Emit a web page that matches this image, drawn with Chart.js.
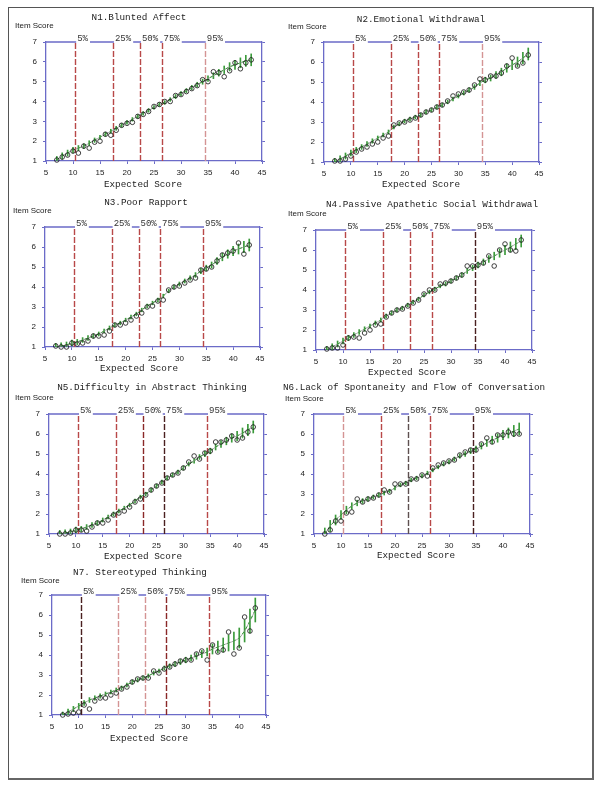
<!DOCTYPE html>
<html lang="en">
<head>
<meta charset="UTF-8">
<title>Item characteristic curves N1-N7</title>
<script src="https://cdn.jsdelivr.net/npm/chart.js"></script>
<style>
  body { margin: 0; background: #fff; width: 600px; height: 788px; position: relative; overflow: hidden; }
  .frame { position: absolute; left: 8px; top: 7px; width: 583px; height: 770px;
           border: 1px solid #555; border-right: 2px solid #666; border-bottom: 2px solid #666; }
  canvas { position: absolute; }
</style>
</head>
<body>
<div class="frame"></div>

<script>
// expected score positions (shared by all items)
const scoreX = [7, 8, 9, 10, 11, 12, 13, 14, 15, 16, 17, 18, 19, 20, 21, 22, 23, 24, 25,
                26, 27, 28, 29, 30, 31, 32, 33, 34, 35, 36, 37, 38, 39, 40, 41, 42, 43];

const percentiles = [10.4, 17.4, 22.4, 26.4, 34.4];
const percentLabels = ['5%', '25%', '50%', '75%', '95%'];
const xTicks = [5, 10, 15, 20, 25, 30, 35, 40, 45];
const yTicks = [1, 2, 3, 4, 5, 6, 7];

const titles = [
  'N1.Blunted Affect',
  'N2.Emotional Withdrawal',
  'N3.Poor Rapport',
  'N4.Passive Apathetic Social Withdrawal',
  'N5.Difficulty in Abstract Thinking',
  'N6.Lack of Spontaneity and Flow of Conversation',
  'N7. Stereotyped Thinking'
];

// model (expected item score) curves
const modelN1 = [1.05, 1.25, 1.4, 1.55, 1.65, 1.75, 1.9, 2.05, 2.2, 2.35, 2.5, 2.65, 2.8, 2.95, 3.1, 3.25, 3.4, 3.55, 3.7,
                 3.85, 3.95, 4.1, 4.25, 4.4, 4.55, 4.7, 4.85, 5.0, 5.15, 5.3, 5.45, 5.6, 5.75, 5.85, 5.95, 6.05, 6.1];
const modelN2 = [1.0, 1.15, 1.3, 1.45, 1.6, 1.75, 1.9, 2.05, 2.2, 2.35, 2.5, 2.75, 2.9, 3.05, 3.15, 3.25, 3.35, 3.5, 3.6,
                 3.75, 3.85, 4.0, 4.15, 4.3, 4.45, 4.6, 4.75, 4.95, 5.1, 5.2, 5.35, 5.5, 5.7, 5.85, 6.0, 6.2, 6.4];
const modelN3 = [1.0, 1.05, 1.1, 1.2, 1.25, 1.35, 1.45, 1.55, 1.65, 1.8, 1.95, 2.1, 2.2, 2.35, 2.5, 2.65, 2.85, 3.05, 3.2,
                 3.35, 3.55, 3.8, 4.0, 4.15, 4.3, 4.45, 4.6, 4.8, 4.95, 5.1, 5.3, 5.5, 5.65, 5.8, 5.9, 6.0, 6.1];
const modelN4 = [1.0, 1.15, 1.3, 1.45, 1.6, 1.75, 1.9, 2.05, 2.2, 2.35, 2.5, 2.7, 2.85, 3.0, 3.1, 3.25, 3.4, 3.55, 3.75,
                 3.9, 4.05, 4.2, 4.3, 4.45, 4.6, 4.75, 4.95, 5.1, 5.25, 5.4, 5.55, 5.7, 5.85, 6.0, 6.15, 6.3, 6.45];
const modelN5 = [1.0, 1.05, 1.1, 1.2, 1.25, 1.35, 1.45, 1.55, 1.7, 1.85, 2.0, 2.15, 2.3, 2.45, 2.65, 2.85, 3.0, 3.2, 3.4,
                 3.6, 3.8, 3.95, 4.1, 4.3, 4.5, 4.65, 4.85, 5.0, 5.15, 5.35, 5.5, 5.65, 5.8, 5.9, 6.05, 6.2, 6.35];
const modelN6 = [1.0, 1.4, 1.7, 1.95, 2.2, 2.4, 2.55, 2.65, 2.75, 2.85, 2.95, 3.05, 3.15, 3.3, 3.45, 3.55, 3.7, 3.8, 3.9,
                 4.05, 4.2, 4.35, 4.5, 4.6, 4.75, 4.9, 5.0, 5.15, 5.25, 5.4, 5.55, 5.7, 5.8, 5.95, 6.05, 6.15, 6.25];
const modelN7 = [1.0, 1.15, 1.3, 1.45, 1.6, 1.75, 1.85, 1.95, 2.05, 2.15, 2.25, 2.35, 2.5, 2.65, 2.75, 2.85, 2.95, 3.1, 3.2,
                 3.35, 3.45, 3.55, 3.65, 3.75, 3.85, 3.95, 4.05, 4.15, 4.3, 4.4, 4.5, 4.6, 4.7, 4.85, 5.2, 5.7, 6.25];

// observed item scores
const obsN1 = [1.05, 1.2, 1.3, 1.5, 1.4, 1.75, 1.65, 1.95, 2.0, 2.35, 2.3, 2.55, 2.8, 2.9, 2.95, 3.25, 3.35, 3.5, 3.75,
               3.85, 4.0, 4.0, 4.3, 4.35, 4.5, 4.65, 4.8, 5.1, 5.0, 5.5, 5.45, 5.25, 5.55, 5.95, 5.65, 5.95, 6.1];
const obsN2 = [1.05, 1.05, 1.15, 1.3, 1.5, 1.65, 1.75, 1.9, 2.0, 2.2, 2.3, 2.85, 2.95, 3.0, 3.1, 3.2, 3.35, 3.5, 3.6,
               3.75, 3.85, 4.05, 4.3, 4.4, 4.5, 4.6, 4.85, 5.15, 5.1, 5.3, 5.3, 5.45, 5.8, 6.2, 5.8, 5.95, 6.35];
const obsN3 = [1.05, 1.0, 1.0, 1.2, 1.15, 1.2, 1.3, 1.55, 1.55, 1.6, 1.8, 2.1, 2.1, 2.2, 2.35, 2.55, 2.7, 3.0, 3.05,
               3.3, 3.35, 3.85, 4.0, 4.05, 4.2, 4.35, 4.45, 4.85, 4.9, 5.0, 5.3, 5.6, 5.7, 5.8, 6.2, 5.65, 6.1];
const obsN4 = [1.05, 1.1, 1.1, 1.25, 1.6, 1.65, 1.6, 1.85, 2.0, 2.25, 2.3, 2.65, 2.85, 3.0, 3.05, 3.2, 3.35, 3.5, 3.8,
               4.0, 4.0, 4.3, 4.35, 4.45, 4.6, 4.75, 5.2, 5.2, 5.25, 5.35, 5.7, 5.2, 6.0, 6.3, 6.0, 5.95, 6.5];
const obsN5 = [1.0, 1.0, 1.05, 1.2, 1.2, 1.15, 1.35, 1.55, 1.55, 1.7, 1.95, 2.05, 2.15, 2.35, 2.6, 2.75, 2.95, 3.2, 3.4,
               3.55, 3.8, 3.95, 4.05, 4.3, 4.6, 4.9, 4.75, 5.05, 5.15, 5.6, 5.6, 5.7, 5.9, 5.7, 5.8, 6.1, 6.35];
const obsN6 = [1.0, 1.2, 1.65, 1.65, 2.05, 2.1, 2.75, 2.6, 2.75, 2.8, 2.95, 3.2, 3.1, 3.5, 3.5, 3.5, 3.75, 3.75, 3.95,
               3.9, 4.3, 4.45, 4.55, 4.65, 4.7, 4.95, 5.1, 5.2, 5.2, 5.5, 5.8, 5.6, 5.95, 5.95, 6.1, 6.0, 6.0];
const obsN7 = [1.0, 1.05, 1.1, 1.15, 1.5, 1.3, 1.7, 1.85, 1.85, 2.0, 2.1, 2.3, 2.4, 2.65, 2.8, 2.85, 2.85, 3.2, 3.1,
               3.3, 3.4, 3.55, 3.7, 3.75, 3.75, 4.05, 4.2, 3.75, 4.5, 4.15, 4.25, 5.15, 4.05, 4.35, 5.9, 5.2, 6.35];

// half widths of the green confidence bars
const ciCommon = [0.18, 0.16, 0.15, 0.14, 0.13, 0.12, 0.12, 0.11, 0.1, 0.1, 0.1, 0.1, 0.09, 0.09, 0.09, 0.09, 0.09, 0.09, 0.09,
                  0.09, 0.09, 0.09, 0.1, 0.1, 0.1, 0.11, 0.12, 0.13, 0.14, 0.15, 0.17, 0.19, 0.21, 0.23, 0.25, 0.28, 0.3];
const ciN6 = [0.3, 0.28, 0.25, 0.22, 0.19, 0.16, 0.14, 0.12, 0.11, 0.1, 0.1, 0.1, 0.09, 0.09, 0.09, 0.09, 0.09, 0.09, 0.09,
              0.09, 0.09, 0.09, 0.1, 0.1, 0.1, 0.11, 0.12, 0.13, 0.14, 0.15, 0.17, 0.19, 0.21, 0.23, 0.25, 0.28, 0.3];
const ciN7 = [0.15, 0.14, 0.13, 0.13, 0.12, 0.12, 0.11, 0.11, 0.1, 0.1, 0.1, 0.1, 0.1, 0.1, 0.1, 0.1, 0.1, 0.1, 0.1,
              0.1, 0.11, 0.12, 0.13, 0.14, 0.15, 0.16, 0.18, 0.2, 0.25, 0.3, 0.35, 0.4, 0.45, 0.5, 0.55, 0.6, 0.6];

// ---- styles / layout ----
const BLUE = '#6b6bc8';
const GREEN = '#3a9a3a';
const red = '#b84848', pink = '#d49494', dark = '#4a2020', darkRed = '#8a2828', grayDark = '#5e5050';
const ML = 42, MR = 22, MT = 40, MB = 32;

const panels = [
  { model: modelN1, obs: obsN1, ci: ciCommon, box: [46, 262, 42, 161],  title: [139, 18],  item: [15, 26],  exp: [143, 185], lines: [red, red, red, red, pink] },
  { model: modelN2, obs: obsN2, ci: ciCommon, box: [324, 539, 42, 162], title: [421, 20],  item: [288, 27], exp: [421, 185], lines: [red, red, red, red, pink] },
  { model: modelN3, obs: obsN3, ci: ciCommon, box: [45, 260, 227, 347], title: [146, 203], item: [13, 211], exp: [139, 369], lines: [red, red, red, red, red] },
  { model: modelN4, obs: obsN4, ci: ciCommon, box: [316, 532, 230, 350], title: [432, 205], item: [288, 214], exp: [407, 373], lines: [red, red, red, red, dark] },
  { model: modelN5, obs: obsN5, ci: ciCommon, box: [49, 264, 414, 534], title: [152, 388], item: [15, 398], exp: [143, 557], lines: [red, red, darkRed, dark, red] },
  { model: modelN6, obs: obsN6, ci: ciN6,     box: [314, 530, 414, 534], title: [414, 388], item: [285, 399], exp: [416, 556], lines: [pink, red, grayDark, red, dark] },
  { model: modelN7, obs: obsN7, ci: ciN7,     box: [52, 266, 595, 715], title: [140, 573], item: [21, 581], exp: [149, 739], lines: [dark, pink, pink, darkRed, red] }
];

const monoFont = '"Liberation Mono", "DejaVu Sans Mono", monospace';

const panelDecor = {
  id: 'panelDecor',
  beforeDatasetsDraw(chart) {
    const { ctx, chartArea: a, scales: { x } } = chart;
    const cfg = chart.options.plugins.panelDecor;
    ctx.save();
    ctx.setLineDash([6, 2]);
    ctx.lineWidth = 1.4;
    percentiles.forEach((p, i) => {
      const px = Math.round(x.getPixelForValue(p)) + 0.5;
      ctx.strokeStyle = cfg.lines[i];
      ctx.beginPath();
      ctx.moveTo(px, a.bottom);
      ctx.lineTo(px, a.top);
      ctx.stroke();
    });
    ctx.restore();
  },
  afterDraw(chart) {
    const { ctx, chartArea: a, scales: { x } } = chart;
    const cfg = chart.options.plugins.panelDecor;
    ctx.save();
    ctx.font = '9px ' + monoFont;
    // top frame line, broken where the percentile labels sit
    const gaps = percentiles.map((p, i) => {
      const px = x.getPixelForValue(p) + 1;
      return [px, px + ctx.measureText(percentLabels[i]).width + 3];
    });
    ctx.strokeStyle = BLUE;
    ctx.lineWidth = 1.3;
    let start = a.left;
    ctx.beginPath();
    gaps.forEach(g => { ctx.moveTo(start, a.top); ctx.lineTo(g[0], a.top); start = g[1]; });
    ctx.moveTo(start, a.top);
    ctx.lineTo(a.right, a.top);
    ctx.stroke();

    ctx.fillStyle = '#333';
    ctx.textBaseline = 'bottom';
    ctx.textAlign = 'left';
    percentiles.forEach((p, i) => {
      ctx.fillText(percentLabels[i], gaps[i][0] + 1, a.top + 1);
    });

    const ox = cfg.box[0] - ML, oy = cfg.box[2] - MT;
    ctx.fillStyle = '#222';
    ctx.textBaseline = 'middle';
    ctx.textAlign = 'center';
    ctx.font = '9.3px ' + monoFont;
    ctx.fillText(cfg.titleText, cfg.title[0] - ox, cfg.title[1] - oy);
    ctx.fillText('Expected Score', cfg.exp[0] - ox, cfg.exp[1] - oy);
    ctx.textAlign = 'left';
    ctx.font = '8px "Liberation Sans", Arial, sans-serif';
    ctx.fillText('Item Score', cfg.item[0] - ox, cfg.item[1] - oy);
    ctx.restore();
  }
};

const tickFont = { family: '"Liberation Sans", Arial, sans-serif', size: 8 };

panels.forEach((pn, idx) => {
  const [l, r, t, b] = pn.box;
  const cv = document.createElement('canvas');
  const w = ML + (r - l) + MR, h = MT + (b - t) + MB;
  cv.width = w; cv.height = h;
  cv.style.left = (l - ML) + 'px';
  cv.style.top = (t - MT) + 'px';
  cv.style.width = w + 'px';
  cv.style.height = h + 'px';
  document.body.appendChild(cv);

  const modelPts = scoreX.map((x, i) => ({ x: x, y: pn.model[i] }));
  const obsPts = scoreX.map((x, i) => ({ x: x, y: pn.obs[i] }));
  const ciPts = scoreX.map((x, i) => ({ x: x, y: [pn.model[i] - pn.ci[i], pn.model[i] + pn.ci[i]] }));

  new Chart(cv, {
    type: 'scatter',
    data: {
      datasets: [
        { type: 'bar', data: ciPts, backgroundColor: GREEN, barThickness: 1, grouped: false, order: 4 },
        { type: 'line', data: modelPts, borderColor: '#888', borderWidth: 0.7, pointRadius: 0, tension: 0.3, order: 3 },
        { type: 'line', data: modelPts, borderColor: GREEN, borderWidth: 1, borderDash: [3, 3], pointRadius: 0, order: 2 },
        { type: 'scatter', data: obsPts, pointRadius: 2.3, borderWidth: 0.8, borderColor: '#111',
          backgroundColor: 'rgba(0,0,0,0)', clip: false, order: 1 }
      ]
    },
    options: {
      responsive: false,
      maintainAspectRatio: false,
      animation: false,
      layout: { padding: { left: 0, right: 0, top: MT, bottom: 0 } },
      plugins: {
        legend: { display: false },
        tooltip: { enabled: false },
        panelDecor: { box: pn.box, title: pn.title, item: pn.item, exp: pn.exp, lines: pn.lines, titleText: titles[idx] }
      },
      scales: {
        x: {
          type: 'linear', min: 5, max: 45, offset: false,
          afterBuildTicks: s => { s.ticks = xTicks.map(v => ({ value: v })); },
          ticks: { font: tickFont, color: '#222', padding: 4, maxRotation: 0, autoSkip: false },
          grid: { drawOnChartArea: false, tickLength: 3, color: BLUE, offset: false },
          border: { color: BLUE, width: 1.3 },
          afterFit: s => { s.height = MB; }
        },
        y: {
          type: 'linear', min: 1, max: 7,
          afterBuildTicks: s => { s.ticks = yTicks.map(v => ({ value: v })); },
          ticks: { font: tickFont, color: '#222', padding: 6 },
          grid: { drawOnChartArea: false, tickLength: 3, color: BLUE },
          border: { color: BLUE, width: 1.3 },
          afterFit: s => { s.width = ML; }
        },
        y2: {
          type: 'linear', position: 'right', min: 1, max: 7,
          afterBuildTicks: s => { s.ticks = yTicks.map(v => ({ value: v })); },
          ticks: { display: false },
          grid: { drawOnChartArea: false, tickLength: 3, color: BLUE },
          border: { color: BLUE, width: 1.3 },
          afterFit: s => { s.width = MR; }
        }
      }
    },
    plugins: [panelDecor]
  });
});
</script>
</body>
</html>
